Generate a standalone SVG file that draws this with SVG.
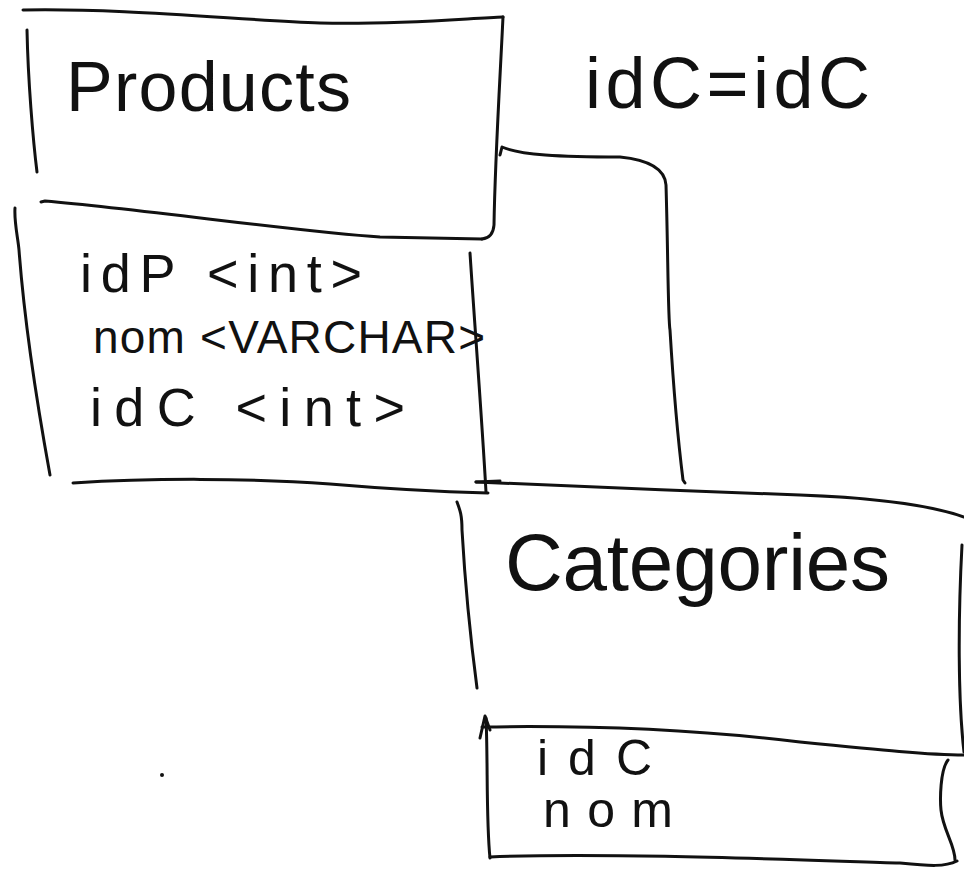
<svg xmlns="http://www.w3.org/2000/svg" width="964" height="872" viewBox="0 0 964 872">
  <style>
    .ink { fill: none; stroke: #111; stroke-width: 3; stroke-linecap: round; stroke-linejoin: round; }
    .hand { font-family: "Liberation Sans", "DejaVu Sans", sans-serif; fill: #111; }
  </style>
  <rect width="964" height="872" fill="#ffffff"/>

  <!-- Products table: header box and field box -->
  <g id="products">
    <g id="products-header">
      <path class="ink" d="M23,10 C120,8 240,20 320,23 C400,25 470,18 503,17"/>
      <path class="ink" d="M503,17 C500,80 495,160 494,225 Q493,238 482,239"/>
      <path class="ink" d="M41,202 L45,201 C150,210 300,232 380,237 L482,239"/>
      <path class="ink" d="M27,30 C28,80 33,140 37,172"/>
      <text class="hand" x="66" y="111" style="font-size:70px" textLength="285" lengthAdjust="spacing">Products</text>
    </g>
    <g id="products-fields">
      <path class="ink" d="M15,208 C14,222 18,238 19,250 C25,330 40,420 50,475"/>
      <path class="ink" d="M470,253 C475,330 482,420 486,492"/>
      <path class="ink" d="M73,483 C150,478 250,478 330,484 C400,490 450,492 488,493"/>
      <path class="ink" d="M476,482 L500,481"/>
      <text class="hand" x="80" y="292" style="font-size:54px" textLength="282" lengthAdjust="spacing">idP &lt;int&gt;</text>
      <text class="hand" x="93" y="353" style="font-size:46px" textLength="392" lengthAdjust="spacing">nom &lt;VARCHAR&gt;</text>
      <text class="hand" x="90" y="426" style="font-size:54px" textLength="315" lengthAdjust="spacing">idC &lt;int&gt;</text>
    </g>
  </g>

  <!-- Categories table: header box and field box -->
  <g id="categories">
    <g id="categories-header">
      <path class="ink" d="M476,482 C560,485 700,492 800,495 C880,498 930,505 964,517"/>
      <path class="ink" d="M457,502 C460,510 462,515 462,530 C466,600 472,650 477,688"/>
      <path class="ink" d="M962,545 C958,620 958,700 964,752"/>
      <path class="ink" d="M482,727 C600,725 700,730 800,742 C880,750 930,755 964,755"/>
      <text class="hand" x="505" y="590" style="font-size:80px" textLength="385" lengthAdjust="spacing">Categories</text>
    </g>
    <g id="categories-fields">
      <path class="ink" d="M480,738 L485,716 L490,730"/>
      <path class="ink" d="M486,718 C488,760 486,820 490,858"/>
      <path class="ink" d="M490,857 C600,852 800,860 900,863 C930,866 945,867 957,861"/>
      <path class="ink" d="M948,760 C940,770 940,800 941,810 C943,830 955,845 955,860"/>
      <text class="hand" x="537" y="775" style="font-size:50px" textLength="115" lengthAdjust="spacing">idC</text>
      <text class="hand" x="543" y="827" style="font-size:50px" textLength="130" lengthAdjust="spacing">nom</text>
    </g>
  </g>

  <!-- Join between the two tables -->
  <g id="connectors">
    <path class="ink" d="M500,155 L502,147 C520,155 560,157 620,157 C650,160 665,170 666,185 C668,250 668,320 670,330 C673,380 678,440 683,480 L685,483"/>
    <text class="hand" x="585" y="108" style="font-size:72px" textLength="285" lengthAdjust="spacing">idC=idC</text>
  </g>

  <!-- stray pen dot -->
  <circle cx="162" cy="775" r="2" fill="#111"/>
</svg>
